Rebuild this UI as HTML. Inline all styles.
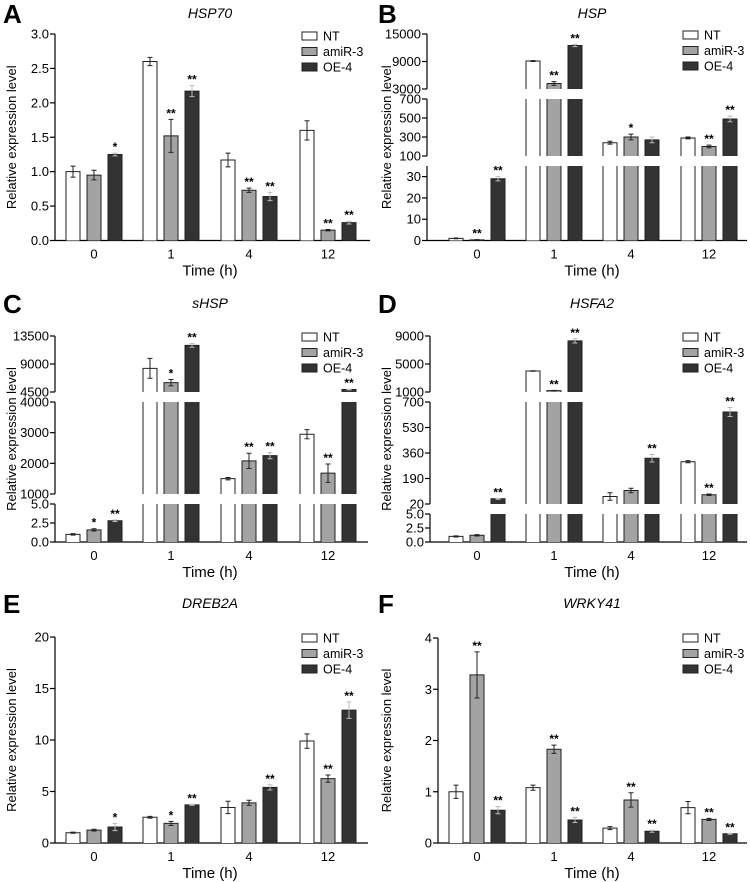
<!DOCTYPE html>
<html><head><meta charset="utf-8"><style>
html,body{margin:0;padding:0;background:#fff}
svg{display:block;font-family:"Liberation Sans",Arial,sans-serif}
</style></head><body>
<svg id="fig" width="750" height="882" viewBox="0 0 750 882" xmlns="http://www.w3.org/2000/svg"></svg>
<script>
// ---- data ----
const categories = ["0","1","4","12"];
const seriesNames = ["NT","amiR-3","OE-4"];
// Panel A HSP70
const aNT=[1.0,2.6,1.17,1.6], aNTe=[0.08,0.06,0.1,0.14];
const aAM=[0.95,1.52,0.73,0.15], aAMe=[0.07,0.24,0.03,0.01];
const aOE=[1.25,2.17,0.64,0.26], aOEe=[0.02,0.08,0.06,0.02];
const aSig=[["","","*"],["","**","**"],["","**","**"],["","**","**"]];
const aTicks=[[0,0.5,1.0,1.5,2.0,2.5,3.0]];
const aTickLabels=[["0.0","0.5","1.0","1.5","2.0","2.5","3.0"]];
// Panel B HSP
const bNT=[1,9100,240,290], bNTe=[0.2,100,15,10];
const bAM=[0.3,4200,300,200], bAMe=[0.1,400,30,15];
const bOE=[29,12500,270,490], bOEe=[1,250,30,30];
const bSig=[["","**","**"],["","**","**"],["","*",""],["","**","**"]];
const bTicks=[[0,10,20,30],[100,300,500,700],[3000,9000,15000]];
const bTickLabels=[["0","10","20","30"],["100","300","500","700"],["3000","9000","15000"]];
// Panel C sHSP
const cNT=[1.0,8300,1500,2950], cNTe=[0.1,1600,40,150];
const cAM=[1.6,6000,2080,1680], cAMe=[0.15,500,250,300];
const cOE=[2.8,12000,2250,4900], cOEe=[0.1,300,100,50];
const cSig=[["","*","**"],["","*","**"],["","**","**"],["","**","**"]];
const cTicks=[[0,2.5,5],[1000,2000,3000,4000],[4500,9000,13500]];
const cTickLabels=[["0.0","2.5","5.0"],["1000","2000","3000","4000"],["4500","9000","13500"]];
// Panel D HSFA2
const dNT=[1.0,4000,70,302], dNTe=[0.1,40,25,7];
const dAM=[1.2,1200,110,82], dAMe=[0.12,30,15,5];
const dOE=[55,8300,325,633], dOEe=[3,300,25,30];
const dSig=[["","","**"],["","**","**"],["","","**"],["","**","**"]];
const dTicks=[[0,2.5,5],[20,190,360,530,700],[1000,5000,9000]];
const dTickLabels=[["0.0","2.5","5.0"],["20","190","360","530","700"],["1000","5000","9000"]];
// Panel E DREB2A
const eNT=[1.0,2.5,3.45,9.9], eNTe=[0.05,0.08,0.6,0.7];
const eAM=[1.25,1.9,3.9,6.25], eAMe=[0.08,0.2,0.25,0.35];
const eOE=[1.55,3.7,5.4,12.9], eOEe=[0.35,0.05,0.25,0.8];
const eSig=[["","","*"],["","*","**"],["","","**"],["","**","**"]];
const eTicks=[[0,5,10,15,20]];
const eTickLabels=[["0","5","10","15","20"]];
// Panel F WRKY41
const fNT=[1.0,1.08,0.29,0.69], fNTe=[0.13,0.05,0.03,0.12];
const fAM=[3.28,1.83,0.84,0.46], fAMe=[0.45,0.08,0.14,0.02];
const fOE=[0.64,0.45,0.23,0.18], fOEe=[0.07,0.05,0.02,0.01];
const fSig=[["","**","**"],["","**","**"],["","**","**"],["","**","**"]];
const fTicks=[[0,1,2,3,4]];
const fTickLabels=[["0","1","2","3","4"]];

// ---- layout ----
const NS="http://www.w3.org/2000/svg";
const svg=document.getElementById('fig');
function mk(tag,attrs,parent,text){const e=document.createElementNS(NS,tag);for(const k in attrs)e.setAttribute(k,attrs[k]);if(text!==undefined)e.textContent=text;(parent||svg).appendChild(e);return e;}
const fills=["#ffffff","#a3a3a3","#333333"];

function panel(cfg){
  const g=mk('g',{});
  
  
  const L=mk('text',{x:cfg.ox+3,y:cfg.oy+23,'font-size':26,'font-weight':'bold'},g,cfg.letter);
  
  
  const T=mk('text',{x:cfg.titleX,y:cfg.oy+18,'font-size':14,'font-style':'italic','text-anchor':'middle'},g,cfg.title);
  
  
  const segs=cfg.segs;
  function yOf(v,s){return s.yb-(v-s.min)/(s.max-s.min)*(s.yb-s.yt);}
  function segOf(v){for(const s of segs){if(v<=s.max)return s;}return segs[segs.length-1];}
  function yVal(v){return yOf(Math.min(v,segOf(v).max),segOf(v));}
  function xOf(ci,si){return cfg.gx[ci]+(si-1)*21;}
  const ax=cfg.ax, xEnd=cfg.xEnd, base=segs[0].yb;
  segs.forEach((s,i)=>{
    const l=mk('line',{x1:ax,x2:ax,y1:s.yb,y2:s.yt,stroke:'#000','stroke-width':1.2},g);
    
    
    cfg.ticks[i].forEach((t,j)=>{
      const y=yOf(t,s);
      mk('line',{x1:ax-5,x2:ax,y1:y,y2:y,stroke:'#000','stroke-width':1.2},g);
      const tl=mk('text',{x:ax-6,y:y+4.5,'font-size':13,'text-anchor':'end'},g,cfg.tickLabels[i][j]);
      
      
    });
  });
  const xl=mk('line',{x1:ax,x2:xEnd,y1:base,y2:base,stroke:'#000','stroke-width':1.2},g);
  
  
  categories.forEach((c,ci)=>{
    const t=mk('text',{x:cfg.gx[ci],y:base+18,'font-size':13,'text-anchor':'middle'},g,c);
    
    
  });
  const xt=mk('text',{x:cfg.titleX,y:base+35,'font-size':15,'text-anchor':'middle'},g,'Time (h)');
  
  
  const yc=(base+segs[segs.length-1].yt)/2;
  const yt=mk('text',{x:0,y:0,'font-size':13,'text-anchor':'middle',transform:`translate(${cfg.ox+16},${yc}) rotate(-90)`},g,'Relative expression level');
  
  
  const vals=[cfg.nt,cfg.am,cfg.oe], errs=[cfg.nte,cfg.ame,cfg.oee];
  for(let si=0;si<3;si++)for(let ci=0;ci<4;ci++){
    const v=vals[si][ci], e=errs[si][ci], x=xOf(ci,si);
    segs.forEach(s=>{
      if(v<s.min)return;
      const isTop=v<=s.max;
      const top=yOf(Math.min(v,s.max),s);
      const h=Math.max(0.5,s.yb-top);
      const r=mk('rect',{x:x-7,y:top,width:14,height:h,fill:fills[si],stroke:'none'},g);
      
      
      const d=isTop?`M${x-7},${s.yb}V${top}H${x+7}V${s.yb}`:`M${x-7},${s.yb}V${top}M${x+7},${top}V${s.yb}`;
      mk('path',{d:d,fill:'none',stroke:'#222','stroke-width':1},g);
    });
    const yh=yVal(v+e), yl=yVal(Math.max(0,v-e));
    const eb=mk('path',{d:`M${x},${yh}V${yl}M${x-2.5},${yh}H${x+2.5}M${x-2.5},${yl}H${x+2.5}`,stroke:si==2?'#bbb':'#222','stroke-width':1,fill:'none'},g);
    
    
    const sg=cfg.sig[ci][si];
    if(sg){
      const st=mk('text',{x:x,y:yh-2,'font-size':12,'font-weight':'bold','text-anchor':'middle'},g,sg);
      
      
    }
  }
  const lg=mk('g',{},g);
  
  
  seriesNames.forEach((n,i)=>{
    const y=cfg.legY+i*15.5;
    mk('rect',{x:cfg.legX,y:y-4,width:15,height:8,fill:fills[i],stroke:'#222','stroke-width':1},lg);
    const t=mk('text',{x:cfg.legX+21,y:y+4.5,'font-size':12.5},lg,n);
    
    
  });
}
const gL=[94,171,249,328], gR=[477,554,631,709];
panel({letter:'A',title:'HSP70',ox:0,oy:0,ax:55,xEnd:370,titleX:210,gx:gL,legX:302,legY:36,
  segs:[{min:0,max:3,yb:240.5,yt:34}],ticks:aTicks,tickLabels:aTickLabels,
  nt:aNT,nte:aNTe,am:aAM,ame:aAMe,oe:aOE,oee:aOEe,sig:aSig});
panel({letter:'B',title:'HSP',ox:375,oy:0,ax:427,xEnd:747,titleX:592,gx:gR,legX:683,legY:35,
  segs:[{min:0,max:35,yb:240.5,yt:166},{min:100,max:700,yb:156,yt:99},{min:3000,max:15000,yb:89,yt:34}],
  ticks:bTicks,tickLabels:bTickLabels,nt:bNT,nte:bNTe,am:bAM,ame:bAMe,oe:bOE,oee:bOEe,sig:bSig});
panel({letter:'C',title:'sHSP',ox:0,oy:290,ax:55,xEnd:368,titleX:210,gx:gL,legX:302,legY:337,
  segs:[{min:0,max:5,yb:542,yt:504},{min:1000,max:4000,yb:494,yt:402},{min:4500,max:13500,yb:392,yt:336}],
  ticks:cTicks,tickLabels:cTickLabels,nt:cNT,nte:cNTe,am:cAM,ame:cAMe,oe:cOE,oee:cOEe,sig:cSig});
panel({letter:'D',title:'HSFA2',ox:375,oy:290,ax:430,xEnd:747,titleX:592,gx:gR,legX:683,legY:337,
  segs:[{min:0,max:5,yb:542,yt:514},{min:20,max:700,yb:504,yt:402},{min:1000,max:9000,yb:392,yt:336}],
  ticks:dTicks,tickLabels:dTickLabels,nt:dNT,nte:dNTe,am:dAM,ame:dAMe,oe:dOE,oee:dOEe,sig:dSig});
panel({letter:'E',title:'DREB2A',ox:0,oy:590,ax:55,xEnd:368,titleX:210,gx:gL,legX:302,legY:638,
  segs:[{min:0,max:20,yb:843,yt:637}],ticks:eTicks,tickLabels:eTickLabels,
  nt:eNT,nte:eNTe,am:eAM,ame:eAMe,oe:eOE,oee:eOEe,sig:eSig});
panel({letter:'F',title:'WRKY41',ox:375,oy:590,ax:438,xEnd:747,titleX:592,gx:gR,legX:683,legY:638,
  segs:[{min:0,max:4,yb:843,yt:638}],ticks:fTicks,tickLabels:fTickLabels,
  nt:fNT,nte:fNTe,am:fAM,ame:fAMe,oe:fOE,oee:fOEe,sig:fSig});
</script>
</body></html>
